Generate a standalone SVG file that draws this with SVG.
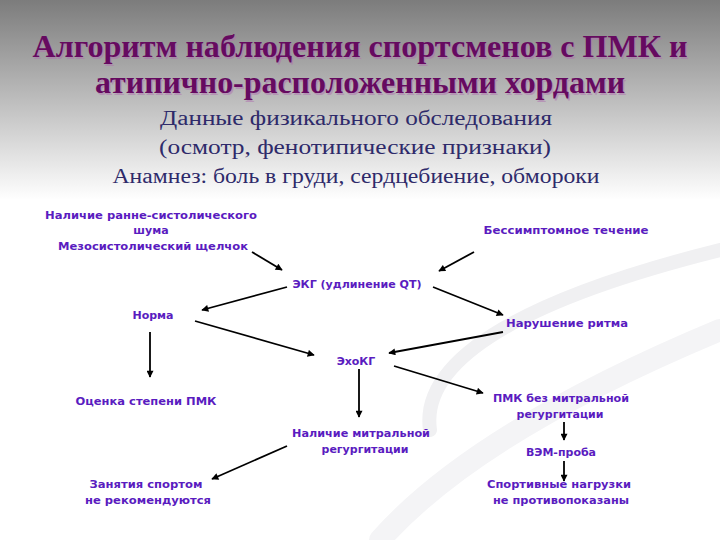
<svg xmlns="http://www.w3.org/2000/svg" width="720" height="540" viewBox="0 0 720 540">
<defs>
<linearGradient id="bg" x1="0" y1="0" x2="0" y2="200" gradientUnits="userSpaceOnUse">
<stop offset="0" stop-color="#7c7c7c"/>
<stop offset="0.5" stop-color="#bdbdbd"/>
<stop offset="1" stop-color="#ffffff"/>
</linearGradient>
<marker id="ah" viewBox="0 0 10 10" refX="9" refY="5" markerWidth="8" markerHeight="7" markerUnits="userSpaceOnUse" orient="auto">
<path d="M0,0 L10,5 L0,10 z" fill="#000"/>
</marker>
<style>
.title{font-family:"Liberation Serif","Times New Roman",serif;font-weight:bold;font-size:32px;fill:#660a60;text-anchor:middle}
.tshadow{font-family:"Liberation Serif","Times New Roman",serif;font-weight:bold;font-size:32px;fill:#b070b0;text-anchor:middle;opacity:0.5}
.sub{font-family:"Liberation Serif","Times New Roman",serif;font-size:20px;fill:#2e2a6a;text-anchor:middle}
.n{font-family:"DejaVu Sans","Verdana",sans-serif;font-weight:bold;font-size:11px;fill:#5a1cc0;text-anchor:middle}
.c{stroke:#000;stroke-width:1.8;fill:none;marker-end:url(#ah)}
</style>
</defs>
<rect x="0" y="0" width="720" height="540" fill="#fff"/>
<rect x="0" y="0" width="720" height="200" fill="url(#bg)"/>
<g id="swoosh" fill="none" stroke-linecap="round">
<path d="M430,430 C420,360 520,300 720,250" stroke="#f0f0f2" stroke-width="14"/>
<path d="M380,540 C460,450 600,380 720,330" stroke="#f4f4f6" stroke-width="22"/>
</g>
<g id="title">
<text class="tshadow" x="361.5" y="58.5" textLength="655" lengthAdjust="spacingAndGlyphs">Алгоритм наблюдения спортсменов с ПМК и</text>
<text class="title" x="360" y="57" textLength="655" lengthAdjust="spacingAndGlyphs">Алгоритм наблюдения спортсменов с ПМК и</text>
<text class="tshadow" x="361.5" y="94.5" textLength="530" lengthAdjust="spacingAndGlyphs">атипично-расположенными хордами</text>
<text class="title" x="360" y="93" textLength="530" lengthAdjust="spacingAndGlyphs">атипично-расположенными хордами</text>
</g>
<g id="subtitle">
<text class="sub" x="356" y="125" textLength="392" lengthAdjust="spacingAndGlyphs">Данные физикального обследования</text>
<text class="sub" x="355" y="154" textLength="392" lengthAdjust="spacingAndGlyphs">(осмотр, фенотипические признаки)</text>
<text class="sub" x="356" y="183" textLength="487" lengthAdjust="spacingAndGlyphs">Анамнез: боль в груди, сердцебиение, обмороки</text>
</g>
<g id="connectors">
<line class="c" x1="252" y1="252" x2="282" y2="270"/>
<line class="c" x1="474" y1="252" x2="439" y2="271"/>
<line class="c" x1="287" y1="287" x2="202" y2="310"/>
<line class="c" x1="433" y1="287" x2="503" y2="315"/>
<line class="c" x1="195" y1="321" x2="314" y2="355"/>
<line class="c" x1="503" y1="332" x2="389" y2="353"/>
<line class="c" x1="150" y1="332" x2="150" y2="377"/>
<line class="c" x1="359" y1="369" x2="359" y2="417"/>
<line class="c" x1="394" y1="366" x2="483" y2="393"/>
<line class="c" x1="287" y1="446" x2="212" y2="479"/>
<line class="c" x1="564" y1="422" x2="564" y2="440"/>
<line class="c" x1="564" y1="461" x2="564" y2="481"/>
</g>
<g id="n-nalichie-shuma">
<text class="n" x="151" y="219" textLength="212" lengthAdjust="spacingAndGlyphs">Наличие ранне-систолического</text>
<text class="n" x="151" y="234">шума</text>
<text class="n" x="153" y="250" textLength="190" lengthAdjust="spacingAndGlyphs">Мезосистолический щелчок</text>
</g>
<g id="n-bessimptomnoe">
<text class="n" x="566" y="234" textLength="165" lengthAdjust="spacingAndGlyphs">Бессимптомное течение</text>
</g>
<g id="n-ekg">
<text class="n" x="357" y="288" textLength="129" lengthAdjust="spacingAndGlyphs">ЭКГ (удлинение QT)</text>
</g>
<g id="n-norma">
<text class="n" x="153" y="319">Норма</text>
</g>
<g id="n-narushenie">
<text class="n" x="567" y="327" textLength="122" lengthAdjust="spacingAndGlyphs">Нарушение ритма</text>
</g>
<g id="n-ehokg">
<text class="n" x="356" y="365">ЭхоКГ</text>
</g>
<g id="n-ocenka">
<text class="n" x="146" y="405" textLength="141" lengthAdjust="spacingAndGlyphs">Оценка степени ПМК</text>
</g>
<g id="n-pmk-bez">
<text class="n" x="561" y="402" textLength="136" lengthAdjust="spacingAndGlyphs">ПМК без митральной</text>
<text class="n" x="560" y="418">регургитации</text>
</g>
<g id="n-nalichie-mitr">
<text class="n" x="361" y="437" textLength="138" lengthAdjust="spacingAndGlyphs">Наличие митральной</text>
<text class="n" x="365" y="453">регургитации</text>
</g>
<g id="n-vem">
<text class="n" x="561" y="456">ВЭМ-проба</text>
</g>
<g id="n-zanyatiya">
<text class="n" x="146" y="488" textLength="113" lengthAdjust="spacingAndGlyphs">Занятия спортом</text>
<text class="n" x="148" y="504" textLength="126" lengthAdjust="spacingAndGlyphs">не рекомендуются</text>
</g>
<g id="n-sportivnye">
<text class="n" x="559" y="488" textLength="144" lengthAdjust="spacingAndGlyphs">Спортивные нагрузки</text>
<text class="n" x="561" y="504" textLength="136" lengthAdjust="spacingAndGlyphs">не противопоказаны</text>
</g>
</svg>
